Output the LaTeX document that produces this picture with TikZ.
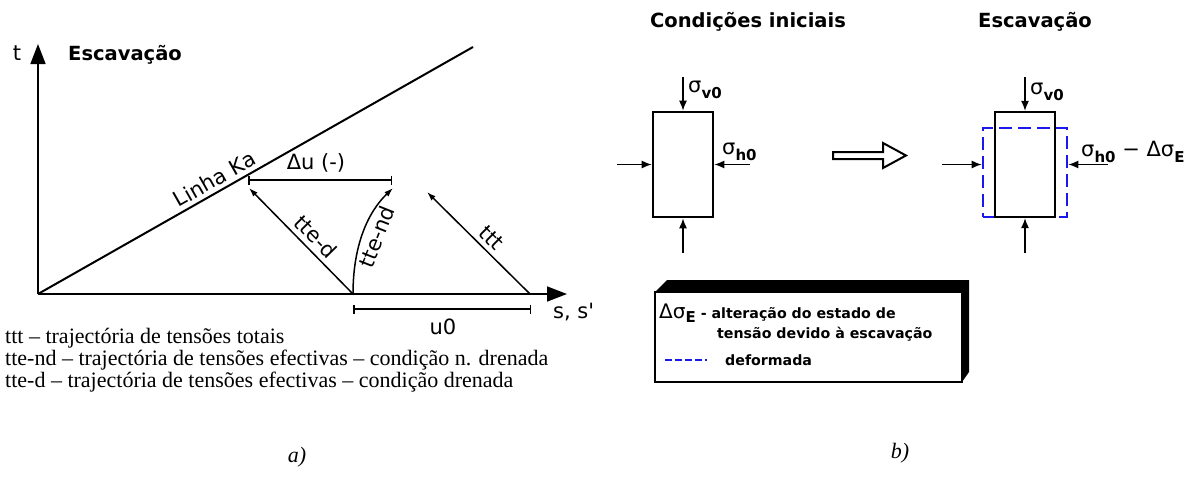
\documentclass[tikz,border=0pt]{standalone}
\usepackage{fontspec}
\setmainfont{Liberation Serif}
\newfontfamily\labfont{DejaVu Sans}
\usetikzlibrary{arrows.meta}
\definecolor{defblue}{RGB}{25,25,235}
\newcommand{\lowidx}[1]{\raisebox{-0.5ex}{\fontsize{15}{15}\selectfont\bfseries #1}}

\tikzset{
  lab/.style={font=\labfont\fontsize{21}{24}\selectfont, inner sep=0pt},
  ttl/.style={font=\labfont\bfseries\fontsize{19.5}{22}\selectfont, inner sep=0pt},
  leg/.style={font=\fontsize{22}{24}\selectfont, anchor=west, inner sep=0pt},
  boxtxt/.style={font=\labfont\bfseries\fontsize{14.2}{16}\selectfont, anchor=west, inner sep=0pt},
  axis/.style={line width=1.6pt, -{Triangle[length=20pt,width=15pt]}},
  trail/.style={line width=1.5pt, -{Latex[length=9pt,width=6pt]}},
  span/.style={line width=2.6pt, {Bar[width=9pt,line width=1.5pt]}-{Bar[width=9pt,line width=1.5pt]}},
  force/.style={line width=1.4pt, -{Latex[length=10pt,width=8pt]}},
}

\begin{document}
\begin{tikzpicture}[x=1pt,y=-1pt]
\useasboundingbox (0,0) rectangle (1191,477);

% a) stress paths
\coordinate (O) at (38,294);
\coordinate (tTop) at (38,44);
\coordinate (sEnd) at (567,294);
\coordinate (KaEnd) at (473,47);
\draw[axis] (O) -- (tTop);
\draw[axis] (O) -- (sEnd);
\node[lab] (tlab) at (17,53) {t};
\node[ttl,anchor=west] (escA) at (68,55) {Escavação};
\node[lab,anchor=north west] (slab) at (553,303) {s, s\textquotesingle};
\draw[line width=2pt] (O) -- (KaEnd)
  node[lab,pos=0.42,sloped,above=4pt] (kalab) {Linha Ka};

\coordinate (A) at (353,294);
\coordinate (B) at (530,294);
\coordinate (P) at (249,188);
\coordinate (Q) at (393,188);
\coordinate (R) at (427,192);
\coordinate (du1) at (248,180);
\coordinate (du2) at (392,180);
\coordinate (u1) at (353,309);
\coordinate (u2) at (531,309);

\draw[span] (du1) -- (du2);
\node[lab] (dulab) at (316,163) {Δu (-)};
\draw[trail] (A) -- (P) node[lab,pos=0.45,sloped,above=5pt] (dlab) {tte-d};
\draw[trail] (A) .. controls (353,245) and (368,212) .. (Q)
  node[lab,pos=0.5,sloped,below=5pt] (ndlab) {tte-nd};
\draw[trail] (B) -- (R) node[lab,pos=0.46,sloped,above=5pt] (tlab2) {ttt};
\draw[span] (u1) -- (u2);
\node[lab] (u0lab) at (443,327) {u0};

\node[leg] (leg1) at (5,338) {ttt – trajectória de tensões totais};
\node[leg] (leg2) at (5,360) {tte-nd – trajectória de tensões efectivas – condição n. drenada};
\node[leg] (leg3) at (5,382) {tte-d – trajectória de tensões efectivas – condição drenada};
\node[leg,anchor=center] (capA) at (297,457) {\itshape a)};

% b) element
\node[ttl] (ttlB1) at (748,22) {Condições iniciais};
\node[ttl] (ttlB2) at (1035,22) {Escavação};

\node[draw,line width=2.6pt,minimum width=60pt,minimum height=105pt,inner sep=0pt] (box0) at (683,164.5) {};
\coordinate (v0t) at (683,77);
\coordinate (v0b) at (683,253);
\coordinate (h0l) at (617,164.5);
\coordinate (h0r) at (750,164.5);
\draw[force] (v0t) -- (box0.north);
\draw[force] (v0b) -- (box0.south);
\draw[force] (h0l) -- (box0.west);
\draw[force] (h0r) -- (box0.east);
\node[lab,anchor=west] (sv0) at (688,90) {σ\lowidx{v0}};
\node[lab,anchor=west] (sh0) at (722,152) {σ\lowidx{h0}};

\draw[line width=2pt] (833,152) -- (883,152) -- (883,143) -- (906,155.5)
  -- (883,168) -- (883,159) -- (833,159) -- cycle;

\node[draw=defblue,line width=2.6pt,dash pattern=on 13pt off 6pt,minimum width=84pt,minimum height=89pt,inner sep=0pt] (box2) at (1025,172.5) {};
\node[draw,line width=2.2pt,minimum width=60pt,minimum height=105pt,inner sep=0pt] (box1) at (1025,164.5) {};
\coordinate (v1t) at (1025,77);
\coordinate (v1b) at (1025,253);
\coordinate (h1l) at (942,164.5);
\coordinate (h1r) at (1108,164.5);
\draw[force] (v1t) -- (box1.north);
\draw[force] (v1b) -- (box1.south);
\draw[force] (h1l) -- (box2.west |- h1l);
\draw[force] (h1r) -- (box2.east |- h1r);
\node[lab,anchor=west] (sv1) at (1030,92) {σ\lowidx{v0}};
\node[lab,anchor=west] (sh1) at (1081,152) {σ\lowidx{h0} − Δσ\lowidx{E}};

% legend box
\fill (655,292) -- (667,280) -- (969,280) -- (969,372) -- (962,382) -- (962,292) -- cycle;
\draw[line width=2pt] (655,292) rectangle (962,382);
\node[boxtxt] (legA) at (659,313) {{\mdseries\fontsize{20}{20}\selectfont Δσ}\lowidx{E} - alteração do estado de};
\node[boxtxt] (legB) at (717,334) {tensão devido à escavação};
\draw[defblue,line width=1.5pt,dash pattern=on 7pt off 3pt] (665,360) -- (707,360);
\node[boxtxt] (legC) at (725,360) {deformada};
\node[leg,anchor=center] (capB) at (900,453) {\itshape b)};
\end{tikzpicture}
\end{document}
